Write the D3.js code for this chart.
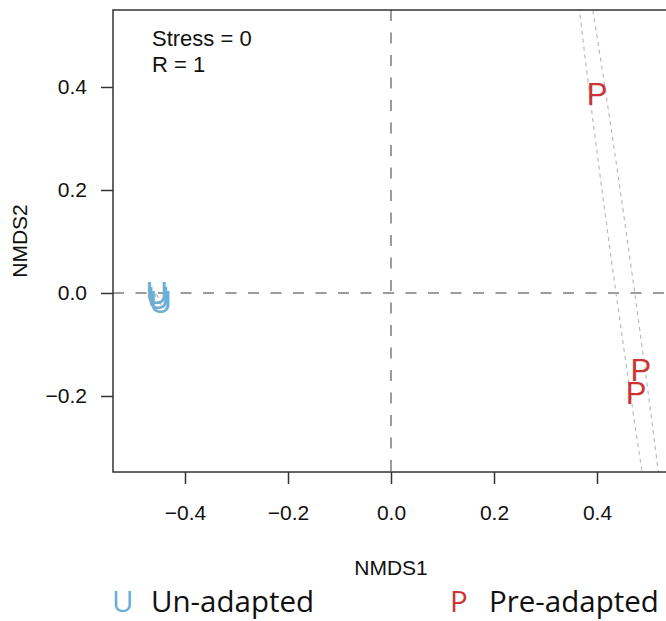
<!DOCTYPE html>
<html><head><meta charset="utf-8">
<script src="https://cdn.jsdelivr.net/npm/d3@7"></script>
<style>body{margin:0;background:#fff}svg{display:block}</style>
</head><body>
<svg id="c" width="666" height="621"></svg>
<script>
// ---- data ----
const groups = ["Un-adapted", "Pre-adapted"];
const groupSymbols = ["U", "P"];
const groupColors = ["#6BAED6", "#CB3335"];
const unX = [-0.455, -0.452, -0.4476];
const unY = [0.000, -0.009, -0.0175];
const preX = [0.400, 0.485, 0.476];
const preY = [0.386, -0.150, -0.194];
// ellipses: [centerX, centerY, semiMajor, semiMinor, angleDeg]
const ellipseUn = [-0.453, -0.011, 0.014, 0.0018, -65];
const ellipsePre = [0.452, 0.022, 0.757, 0.018, 97.9];
const xTicks = [-0.4, -0.2, 0.0, 0.2, 0.4];
const yTicks = [-0.2, 0.0, 0.2, 0.4];
const xDomain = [-0.5398, 0.5359];
const yDomain = [-0.3476, 0.5495];
const stressText = ["Stress = 0", "R = 1"];
const xTitle = "NMDS1", yTitle = "NMDS2";

// ---- layout ----
const svg = d3.select("#c");
const L = 113, R = 667, T = 10, B = 472;
const x = d3.scaleLinear().domain(xDomain).range([L, R]);
const y = d3.scaleLinear().domain(yDomain).range([B, T]);
const fmt = v => (v < 0 ? "\u2212" : "") + Math.abs(v).toFixed(1);

svg.append("defs").append("clipPath").attr("id", "clip")
  .append("rect").attr("x", L).attr("y", T).attr("width", R - L).attr("height", B - T);

const plot = svg.append("g").attr("clip-path", "url(#clip)");

// zero reference lines
plot.append("line").attr("x1", L).attr("x2", R).attr("y1", y(0)).attr("y2", y(0))
  .attr("stroke", "#9c9c9c").attr("stroke-width", 2).attr("stroke-dasharray", "11,11.5");
plot.append("line").attr("x1", x(0)).attr("x2", x(0)).attr("y1", T).attr("y2", B)
  .attr("stroke", "#9c9c9c").attr("stroke-width", 2).attr("stroke-dasharray", "11,11.5");

// ellipses
function ellipsePath(e) {
  const [cx, cy, a, b, ang] = e;
  const th = ang * Math.PI / 180;
  const pts = d3.range(0, 361, 1).map(d => {
    const t = d * Math.PI / 180;
    const ex = a * Math.cos(t), ey = b * Math.sin(t);
    return [x(cx + ex * Math.cos(th) - ey * Math.sin(th)), y(cy + ex * Math.sin(th) + ey * Math.cos(th))];
  });
  return d3.line()(pts);
}
[ellipseUn, ellipsePre].forEach(e => {
  plot.append("path").attr("d", ellipsePath(e)).attr("fill", "none")
    .attr("stroke", "#b5b5b5").attr("stroke-width", 1.1).attr("stroke-dasharray", "4,4");
});

// points as letters
const pointFont = 31;
function drawPts(xs, ys, sym, col) {
  plot.selectAll(null).data(xs.map((v, i) => [v, ys[i]])).enter().append("text")
    .attr("x", d => x(d[0])).attr("y", d => y(d[1]) + pointFont * 0.36)
    .attr("text-anchor", "middle").attr("font-family", "Liberation Sans, Arial, sans-serif")
    .attr("font-size", pointFont).attr("fill", col).text(sym);
}
drawPts(unX, unY, groupSymbols[0], groupColors[0]);
drawPts(preX, preY, groupSymbols[1], groupColors[1]);

// frame
svg.append("rect").attr("x", L).attr("y", T).attr("width", R - L).attr("height", B - T)
  .attr("fill", "none").attr("stroke", "#333").attr("stroke-width", 1.5);

// axes
const font = "Liberation Sans, Arial, Helvetica, sans-serif";
const xAxis = svg.append("g").attr("transform", `translate(0,${B})`)
  .call(d3.axisBottom(x).tickValues(xTicks).tickFormat(fmt).tickSize(12).tickPadding(21));
const yAxis = svg.append("g").attr("transform", `translate(${L},0)`)
  .call(d3.axisLeft(y).tickValues(yTicks).tickFormat(fmt).tickSize(12).tickPadding(14));
[xAxis, yAxis].forEach(a => {
  a.select(".domain").remove();
  a.selectAll("line").attr("stroke", "#333").attr("stroke-width", 1.5);
  a.selectAll("text").attr("font-family", font).attr("font-size", 21).attr("fill", "#111");
});

// titles
svg.append("text").attr("x", x(0)).attr("y", 575).attr("text-anchor", "middle")
  .attr("font-family", font).attr("font-size", 21).attr("fill", "#111").text(xTitle);
svg.append("text").attr("transform", `translate(27,${(T + B) / 2}) rotate(-90)`)
  .attr("text-anchor", "middle").attr("font-family", font).attr("font-size", 21)
  .attr("fill", "#111").text(yTitle);

// stress annotation
stressText.forEach((s, i) => {
  svg.append("text").attr("x", 152).attr("y", 46 + i * 26).attr("font-family", font)
    .attr("font-size", 22).attr("fill", "#111").text(s);
});

// legend
const legFont = "Open Sans, Noto Sans, sans-serif";
const legX = [112, 450];
groups.forEach((g, i) => {
  svg.append("text").attr("x", legX[i]).attr("y", 612).attr("font-family", legFont)
    .attr("font-size", 29.5).attr("fill", groupColors[i]).text(groupSymbols[i]);
  svg.append("text").attr("x", legX[i] + 39).attr("y", 612).attr("font-family", legFont)
    .attr("font-size", 29.5).attr("fill", "#111").text(g);
});
</script>
</body></html>
